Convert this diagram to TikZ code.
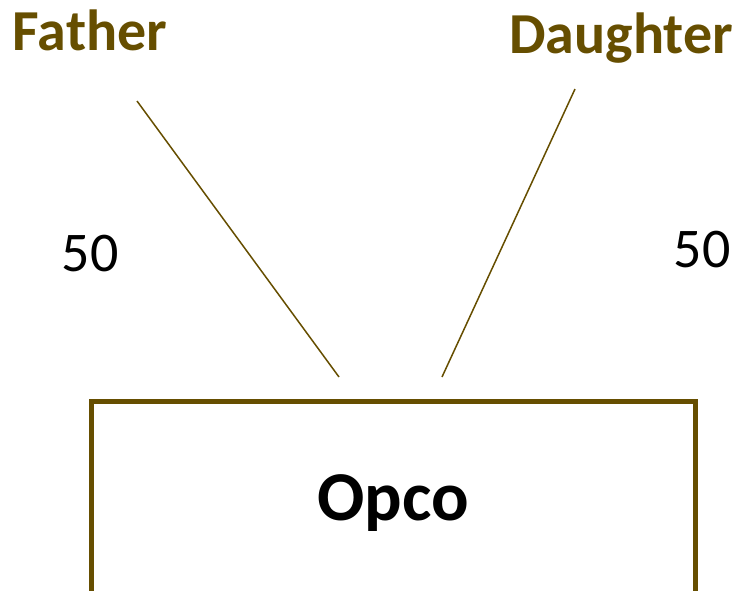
\documentclass[tikz,border=0pt]{standalone}
\usepackage{fontspec}
\setmainfont{Carlito}
\definecolor{olive}{HTML}{664E00}
\begin{document}
\begin{tikzpicture}[x=1pt,y=-1pt,
  lbl/.style={text=olive,font=\bfseries\fontsize{58}{62}\selectfont,anchor=base,inner sep=0pt},
  num/.style={text=black,font=\fontsize{56}{60}\selectfont,anchor=base,inner sep=0pt},
  link/.style={draw=olive,line width=1.5pt}]
\useasboundingbox (0,0) rectangle (736,590);
\node[lbl] (father) at (90,50) {Father};
\node[lbl] (daughter) at (621,53) {Daughter};
\node[num] (n1) at (90,271) {50};
\node[num] (n2) at (702,267) {50};
\coordinate (fs) at (137,101);
\coordinate (fe) at (339,377);
\coordinate (ds) at (575,89);
\coordinate (de) at (442,377);
\draw[link] (fs) -- (fe);
\draw[link] (ds) -- (de);
\begin{scope}
\clip (0,0) rectangle (736,590);
\node[draw=olive,line width=5pt,outer sep=0pt,minimum width=604pt,minimum height=220pt,anchor=north west,inner sep=0pt] (opco) at (91.5,401) {};
\end{scope}
\node[anchor=base,inner sep=0pt,font=\bfseries\fontsize{70}{74}\selectfont] (opcolbl) at (393,520) {Opco};
\end{tikzpicture}
\end{document}
